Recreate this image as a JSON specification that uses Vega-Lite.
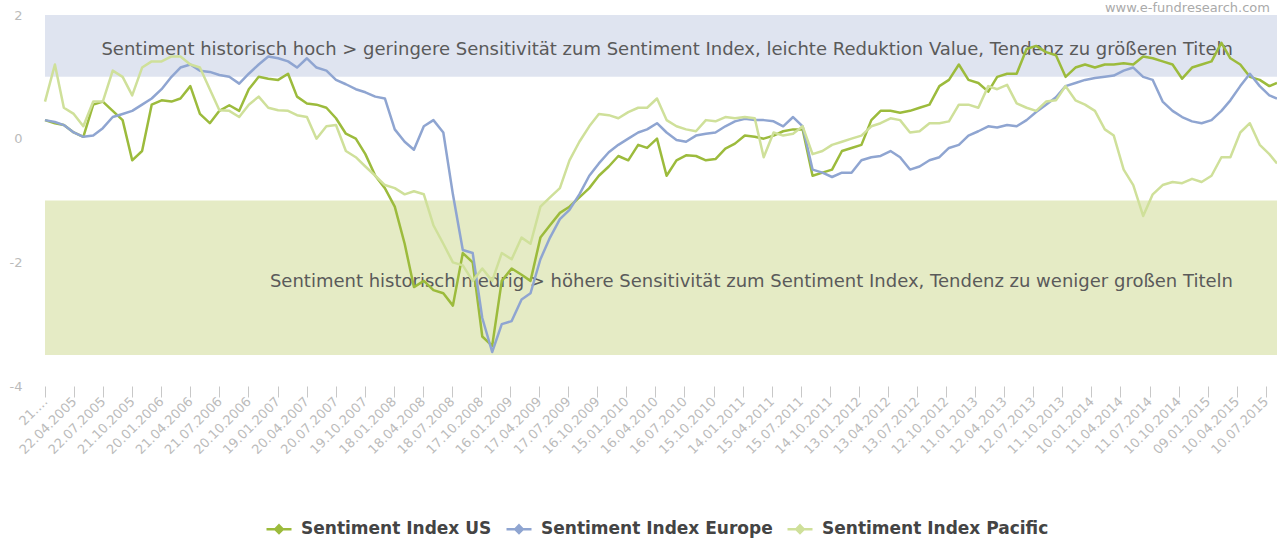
{
  "$schema": "https://vega.github.io/schema/vega-lite/v6.json",
  "width": 1232,
  "height": 371,
  "autosize": {"type": "none"},
  "padding": {"left": 45, "top": 15, "right": 0, "bottom": 154},
  "background": "white",
  "config": {
    "view": {"stroke": null},
    "font": "DejaVu Sans",
    "axisX": {"domain": false, "grid": false, "ticks": true, "tickSize": 11, "tickColor": "#c8c8c8", "tickWidth": 1, "labelAngle": -45, "labelAlign": "right", "labelBaseline": "middle", "labelPadding": 2, "labelFontSize": 13, "labelColor": "#bbbbbb", "labelOverlap": false, "labelFlush": false, "labelBound": false},
    "axisY": {"domain": false, "ticks": false, "grid": false, "labelFontSize": 13, "labelColor": "#bbbbbb", "labelPadding": 23, "labelFlush": false, "labelOverlap": false}
  },
  "datasets": {
    "series": [
      {"date": "2005-01-21", "US": 0.30, "Europe": 0.30, "Pacific": 0.60},
      {"date": "2005-02-21", "US": 0.25, "Europe": 0.27, "Pacific": 1.20},
      {"date": "2005-03-21", "US": 0.22, "Europe": 0.22, "Pacific": 0.50},
      {"date": "2005-04-21", "US": 0.10, "Europe": 0.10, "Pacific": 0.40},
      {"date": "2005-05-21", "US": 0.03, "Europe": 0.03, "Pacific": 0.20},
      {"date": "2005-06-21", "US": 0.55, "Europe": 0.05, "Pacific": 0.60},
      {"date": "2005-07-21", "US": 0.60, "Europe": 0.17, "Pacific": 0.60},
      {"date": "2005-08-21", "US": 0.45, "Europe": 0.35, "Pacific": 1.10},
      {"date": "2005-09-21", "US": 0.30, "Europe": 0.40, "Pacific": 1.00},
      {"date": "2005-10-21", "US": -0.35, "Europe": 0.45, "Pacific": 0.70},
      {"date": "2005-11-21", "US": -0.20, "Europe": 0.55, "Pacific": 1.15},
      {"date": "2005-12-21", "US": 0.55, "Europe": 0.65, "Pacific": 1.25},
      {"date": "2006-01-21", "US": 0.62, "Europe": 0.80, "Pacific": 1.25},
      {"date": "2006-02-21", "US": 0.60, "Europe": 1.00, "Pacific": 1.33},
      {"date": "2006-03-21", "US": 0.65, "Europe": 1.15, "Pacific": 1.33},
      {"date": "2006-04-21", "US": 0.85, "Europe": 1.20, "Pacific": 1.20},
      {"date": "2006-05-21", "US": 0.40, "Europe": 1.10, "Pacific": 1.15},
      {"date": "2006-06-21", "US": 0.25, "Europe": 1.08, "Pacific": 0.80},
      {"date": "2006-07-21", "US": 0.45, "Europe": 1.03, "Pacific": 0.46},
      {"date": "2006-08-21", "US": 0.54, "Europe": 1.00, "Pacific": 0.45},
      {"date": "2006-09-21", "US": 0.45, "Europe": 0.89, "Pacific": 0.35},
      {"date": "2006-10-21", "US": 0.80, "Europe": 1.05, "Pacific": 0.55},
      {"date": "2006-11-21", "US": 1.00, "Europe": 1.20, "Pacific": 0.68},
      {"date": "2006-12-21", "US": 0.97, "Europe": 1.33, "Pacific": 0.50},
      {"date": "2007-01-21", "US": 0.95, "Europe": 1.30, "Pacific": 0.46},
      {"date": "2007-02-21", "US": 1.05, "Europe": 1.25, "Pacific": 0.45},
      {"date": "2007-03-21", "US": 0.68, "Europe": 1.15, "Pacific": 0.38},
      {"date": "2007-04-21", "US": 0.57, "Europe": 1.30, "Pacific": 0.35},
      {"date": "2007-05-21", "US": 0.55, "Europe": 1.15, "Pacific": 0.00},
      {"date": "2007-06-21", "US": 0.50, "Europe": 1.10, "Pacific": 0.20},
      {"date": "2007-07-21", "US": 0.33, "Europe": 0.95, "Pacific": 0.22},
      {"date": "2007-08-21", "US": 0.08, "Europe": 0.88, "Pacific": -0.20},
      {"date": "2007-09-21", "US": 0.00, "Europe": 0.80, "Pacific": -0.30},
      {"date": "2007-10-21", "US": -0.25, "Europe": 0.75, "Pacific": -0.45},
      {"date": "2007-11-21", "US": -0.60, "Europe": 0.68, "Pacific": -0.60},
      {"date": "2007-12-21", "US": -0.80, "Europe": 0.65, "Pacific": -0.75},
      {"date": "2008-01-21", "US": -1.10, "Europe": 0.15, "Pacific": -0.80},
      {"date": "2008-02-21", "US": -1.70, "Europe": -0.05, "Pacific": -0.90},
      {"date": "2008-03-21", "US": -2.40, "Europe": -0.18, "Pacific": -0.85},
      {"date": "2008-04-21", "US": -2.30, "Europe": 0.20, "Pacific": -0.90},
      {"date": "2008-05-21", "US": -2.45, "Europe": 0.30, "Pacific": -1.40},
      {"date": "2008-06-21", "US": -2.50, "Europe": 0.10, "Pacific": -1.70},
      {"date": "2008-07-21", "US": -2.70, "Europe": -0.90, "Pacific": -2.00},
      {"date": "2008-08-21", "US": -1.85, "Europe": -1.80, "Pacific": -2.05},
      {"date": "2008-09-21", "US": -2.00, "Europe": -1.85, "Pacific": -2.30},
      {"date": "2008-10-21", "US": -3.20, "Europe": -2.90, "Pacific": -2.10},
      {"date": "2008-11-21", "US": -3.35, "Europe": -3.45, "Pacific": -2.30},
      {"date": "2008-12-21", "US": -2.30, "Europe": -3.00, "Pacific": -1.85},
      {"date": "2009-01-21", "US": -2.10, "Europe": -2.95, "Pacific": -1.95},
      {"date": "2009-02-21", "US": -2.20, "Europe": -2.60, "Pacific": -1.60},
      {"date": "2009-03-21", "US": -2.30, "Europe": -2.50, "Pacific": -1.70},
      {"date": "2009-04-21", "US": -1.60, "Europe": -1.95, "Pacific": -1.10},
      {"date": "2009-05-21", "US": -1.40, "Europe": -1.60, "Pacific": -0.95},
      {"date": "2009-06-21", "US": -1.20, "Europe": -1.30, "Pacific": -0.80},
      {"date": "2009-07-21", "US": -1.10, "Europe": -1.15, "Pacific": -0.35},
      {"date": "2009-08-21", "US": -0.95, "Europe": -0.90, "Pacific": -0.05},
      {"date": "2009-09-21", "US": -0.80, "Europe": -0.60, "Pacific": 0.20},
      {"date": "2009-10-21", "US": -0.60, "Europe": -0.40, "Pacific": 0.40},
      {"date": "2009-11-21", "US": -0.45, "Europe": -0.22, "Pacific": 0.38},
      {"date": "2009-12-21", "US": -0.28, "Europe": -0.10, "Pacific": 0.33},
      {"date": "2010-01-21", "US": -0.35, "Europe": 0.00, "Pacific": 0.43},
      {"date": "2010-02-21", "US": -0.10, "Europe": 0.10, "Pacific": 0.50},
      {"date": "2010-03-21", "US": -0.15, "Europe": 0.15, "Pacific": 0.50},
      {"date": "2010-04-21", "US": 0.00, "Europe": 0.25, "Pacific": 0.65},
      {"date": "2010-05-21", "US": -0.60, "Europe": 0.10, "Pacific": 0.30},
      {"date": "2010-06-21", "US": -0.35, "Europe": -0.02, "Pacific": 0.20},
      {"date": "2010-07-21", "US": -0.27, "Europe": -0.05, "Pacific": 0.15},
      {"date": "2010-08-21", "US": -0.28, "Europe": 0.05, "Pacific": 0.12},
      {"date": "2010-09-21", "US": -0.35, "Europe": 0.08, "Pacific": 0.30},
      {"date": "2010-10-21", "US": -0.33, "Europe": 0.10, "Pacific": 0.28},
      {"date": "2010-11-21", "US": -0.16, "Europe": 0.20, "Pacific": 0.35},
      {"date": "2010-12-21", "US": -0.08, "Europe": 0.28, "Pacific": 0.33},
      {"date": "2011-01-21", "US": 0.05, "Europe": 0.32, "Pacific": 0.35},
      {"date": "2011-02-21", "US": 0.03, "Europe": 0.30, "Pacific": 0.33},
      {"date": "2011-03-21", "US": 0.00, "Europe": 0.30, "Pacific": -0.30},
      {"date": "2011-04-21", "US": 0.05, "Europe": 0.28, "Pacific": 0.10},
      {"date": "2011-05-21", "US": 0.12, "Europe": 0.20, "Pacific": 0.05},
      {"date": "2011-06-21", "US": 0.15, "Europe": 0.35, "Pacific": 0.08},
      {"date": "2011-07-21", "US": 0.15, "Europe": 0.20, "Pacific": 0.20},
      {"date": "2011-08-21", "US": -0.60, "Europe": -0.50, "Pacific": -0.25},
      {"date": "2011-09-21", "US": -0.55, "Europe": -0.55, "Pacific": -0.20},
      {"date": "2011-10-21", "US": -0.50, "Europe": -0.62, "Pacific": -0.10},
      {"date": "2011-11-21", "US": -0.20, "Europe": -0.55, "Pacific": -0.05},
      {"date": "2011-12-21", "US": -0.15, "Europe": -0.55, "Pacific": 0.00},
      {"date": "2012-01-21", "US": -0.10, "Europe": -0.35, "Pacific": 0.05},
      {"date": "2012-02-21", "US": 0.30, "Europe": -0.30, "Pacific": 0.20},
      {"date": "2012-03-21", "US": 0.45, "Europe": -0.28, "Pacific": 0.25},
      {"date": "2012-04-21", "US": 0.45, "Europe": -0.20, "Pacific": 0.33},
      {"date": "2012-05-21", "US": 0.42, "Europe": -0.30, "Pacific": 0.30},
      {"date": "2012-06-21", "US": 0.45, "Europe": -0.50, "Pacific": 0.10},
      {"date": "2012-07-21", "US": 0.50, "Europe": -0.45, "Pacific": 0.12},
      {"date": "2012-08-21", "US": 0.55, "Europe": -0.35, "Pacific": 0.25},
      {"date": "2012-09-21", "US": 0.85, "Europe": -0.30, "Pacific": 0.25},
      {"date": "2012-10-21", "US": 0.95, "Europe": -0.15, "Pacific": 0.28},
      {"date": "2012-11-21", "US": 1.20, "Europe": -0.10, "Pacific": 0.55},
      {"date": "2012-12-21", "US": 0.95, "Europe": 0.05, "Pacific": 0.55},
      {"date": "2013-01-21", "US": 0.90, "Europe": 0.12, "Pacific": 0.50},
      {"date": "2013-02-21", "US": 0.76, "Europe": 0.20, "Pacific": 0.85},
      {"date": "2013-03-21", "US": 1.00, "Europe": 0.18, "Pacific": 0.80},
      {"date": "2013-04-21", "US": 1.05, "Europe": 0.22, "Pacific": 0.87},
      {"date": "2013-05-21", "US": 1.05, "Europe": 0.20, "Pacific": 0.57},
      {"date": "2013-06-21", "US": 1.45, "Europe": 0.30, "Pacific": 0.50},
      {"date": "2013-07-21", "US": 1.50, "Europe": 0.43, "Pacific": 0.45},
      {"date": "2013-08-21", "US": 1.40, "Europe": 0.55, "Pacific": 0.60},
      {"date": "2013-09-21", "US": 1.35, "Europe": 0.67, "Pacific": 0.62},
      {"date": "2013-10-21", "US": 1.00, "Europe": 0.85, "Pacific": 0.85},
      {"date": "2013-11-21", "US": 1.15, "Europe": 0.90, "Pacific": 0.62},
      {"date": "2013-12-21", "US": 1.20, "Europe": 0.95, "Pacific": 0.55},
      {"date": "2014-01-21", "US": 1.15, "Europe": 0.98, "Pacific": 0.45},
      {"date": "2014-02-21", "US": 1.20, "Europe": 1.00, "Pacific": 0.15},
      {"date": "2014-03-21", "US": 1.20, "Europe": 1.02, "Pacific": 0.05},
      {"date": "2014-04-21", "US": 1.22, "Europe": 1.10, "Pacific": -0.50},
      {"date": "2014-05-21", "US": 1.20, "Europe": 1.15, "Pacific": -0.75},
      {"date": "2014-06-21", "US": 1.33, "Europe": 1.00, "Pacific": -1.25},
      {"date": "2014-07-21", "US": 1.30, "Europe": 0.95, "Pacific": -0.90},
      {"date": "2014-08-21", "US": 1.25, "Europe": 0.60, "Pacific": -0.75},
      {"date": "2014-09-21", "US": 1.20, "Europe": 0.45, "Pacific": -0.70},
      {"date": "2014-10-21", "US": 0.97, "Europe": 0.35, "Pacific": -0.72},
      {"date": "2014-11-21", "US": 1.15, "Europe": 0.28, "Pacific": -0.65},
      {"date": "2014-12-21", "US": 1.20, "Europe": 0.25, "Pacific": -0.70},
      {"date": "2015-01-21", "US": 1.25, "Europe": 0.30, "Pacific": -0.60},
      {"date": "2015-02-21", "US": 1.55, "Europe": 0.45, "Pacific": -0.30},
      {"date": "2015-03-21", "US": 1.30, "Europe": 0.62, "Pacific": -0.30},
      {"date": "2015-04-21", "US": 1.20, "Europe": 0.85, "Pacific": 0.10},
      {"date": "2015-05-21", "US": 1.00, "Europe": 1.05, "Pacific": 0.25},
      {"date": "2015-06-21", "US": 0.95, "Europe": 0.85, "Pacific": -0.10},
      {"date": "2015-07-21", "US": 0.85, "Europe": 0.70, "Pacific": -0.25},
      {"date": "2015-08-14", "US": 0.90, "Europe": 0.65, "Pacific": -0.40}
    ],
    "notes": [
      {"date": "2015-03-29", "value": 1.435, "label": "Sentiment historisch hoch > geringere Sensitivität zum Sentiment Index, leichte Reduktion Value, Tendenz zu größeren Titeln"},
      {"date": "2015-03-29", "value": -2.31, "label": "Sentiment historisch niedrig > höhere Sensitivität zum Sentiment Index, Tendenz zu weniger großen Titeln"}
    ],
    "source": [
      {"date": "2015-07-23", "value": 2.11, "label": "www.e-fundresearch.com"}
    ]
  },
  "layer": [
    {
      "data": {"values": [{"value": 2, "value2": 1}]},
      "mark": {"type": "rect", "color": "#dfe4f0"},
      "encoding": {
        "y": {"field": "value", "type": "quantitative", "title": null, "scale": {"domain": [-4, 2], "nice": false}, "axis": {"title": null, "values": [2, 0, -2, -4], "labelExpr": "toString(datum.value)"}},
        "y2": {"field": "value2"}
      }
    },
    {
      "data": {"values": [{"value": -1, "value2": -3.5}]},
      "mark": {"type": "rect", "color": "#e5ebc5"},
      "encoding": {
        "y": {"field": "value", "type": "quantitative", "title": null, "scale": {"domain": [-4, 2], "nice": false}, "axis": {"title": null, "values": [2, 0, -2, -4], "labelExpr": "toString(datum.value)"}},
        "y2": {"field": "value2"}
      }
    },
    {
      "data": {"name": "notes"},
      "mark": {"type": "text", "align": "right", "baseline": "middle", "fontSize": 18, "color": "#5a5a5a"},
      "encoding": {
        "x": {"field": "date", "type": "temporal", "title": null, "axis": {"title": null, "labelOverlap": false}},
        "y": {"field": "value", "type": "quantitative", "title": null, "axis": {"title": null, "values": [2, 0, -2, -4], "labelExpr": "toString(datum.value)"}},
        "text": {"field": "label"}
      }
    },
    {
      "data": {"name": "source"},
      "mark": {"type": "text", "align": "right", "baseline": "middle", "fontSize": 13, "color": "#aaaaaa"},
      "encoding": {
        "x": {"field": "date", "type": "temporal", "title": null, "axis": {"title": null, "labelOverlap": false}},
        "y": {"field": "value", "type": "quantitative", "title": null, "axis": {"title": null, "values": [2, 0, -2, -4], "labelExpr": "toString(datum.value)"}},
        "text": {"field": "label"}
      }
    },
    {
      "data": {"name": "series"},
      "transform": [{"fold": ["US", "Europe", "Pacific"], "as": ["series", "value"]}],
      "mark": {"type": "line", "strokeWidth": 2.5, "strokeJoin": "round"},
      "encoding": {
        "x": {
          "field": "date", "type": "temporal", "title": null,
          "scale": {"domain": [{"year": 2005, "month": 1, "date": 21}, {"year": 2015, "month": 8, "date": 14}]},
          "axis": {
            "title": null, "labelOverlap": false, "tickCount": 50,
            "labelExpr": "datum.value < datetime(2005, 1, 1) ? '21.…' : timeFormat(datum.value, '%d.%m.%Y')",
            "values": [
              {"year": 2005, "month": 1, "date": 21}, {"year": 2005, "month": 4, "date": 22}, {"year": 2005, "month": 7, "date": 22}, {"year": 2005, "month": 10, "date": 21},
              {"year": 2006, "month": 1, "date": 20}, {"year": 2006, "month": 4, "date": 21}, {"year": 2006, "month": 7, "date": 21}, {"year": 2006, "month": 10, "date": 20},
              {"year": 2007, "month": 1, "date": 19}, {"year": 2007, "month": 4, "date": 20}, {"year": 2007, "month": 7, "date": 20}, {"year": 2007, "month": 10, "date": 19},
              {"year": 2008, "month": 1, "date": 18}, {"year": 2008, "month": 4, "date": 18}, {"year": 2008, "month": 7, "date": 18}, {"year": 2008, "month": 10, "date": 17},
              {"year": 2009, "month": 1, "date": 16}, {"year": 2009, "month": 4, "date": 17}, {"year": 2009, "month": 7, "date": 17}, {"year": 2009, "month": 10, "date": 16},
              {"year": 2010, "month": 1, "date": 15}, {"year": 2010, "month": 4, "date": 16}, {"year": 2010, "month": 7, "date": 16}, {"year": 2010, "month": 10, "date": 15},
              {"year": 2011, "month": 1, "date": 14}, {"year": 2011, "month": 4, "date": 15}, {"year": 2011, "month": 7, "date": 15}, {"year": 2011, "month": 10, "date": 14},
              {"year": 2012, "month": 1, "date": 13}, {"year": 2012, "month": 4, "date": 13}, {"year": 2012, "month": 7, "date": 13}, {"year": 2012, "month": 10, "date": 12},
              {"year": 2013, "month": 1, "date": 11}, {"year": 2013, "month": 4, "date": 12}, {"year": 2013, "month": 7, "date": 12}, {"year": 2013, "month": 10, "date": 11},
              {"year": 2014, "month": 1, "date": 10}, {"year": 2014, "month": 4, "date": 11}, {"year": 2014, "month": 7, "date": 11}, {"year": 2014, "month": 10, "date": 10},
              {"year": 2015, "month": 1, "date": 9}, {"year": 2015, "month": 4, "date": 10}, {"year": 2015, "month": 7, "date": 10}
            ]
          }
        },
        "y": {"field": "value", "type": "quantitative", "title": null, "scale": {"domain": [-4, 2], "nice": false}, "axis": {"title": null, "values": [2, 0, -2, -4], "labelExpr": "toString(datum.value)"}},
        "color": {
          "field": "series", "type": "nominal",
          "scale": {"domain": ["US", "Europe", "Pacific"], "range": ["#9cbb3c", "#8fa5d1", "#cfe09a"]},
          "legend": {
            "orient": "none", "legendX": 220, "legendY": 500, "direction": "horizontal", "title": null, "padding": 0,
            "labelExpr": "'Sentiment Index ' + datum.label", "labelLimit": 0,
            "labelFont": "DejaVu Sans", "labelFontWeight": "bold", "labelFontSize": 17, "labelColor": "#444444",
            "symbolType": "M-1,0L1,0M0,-0.3L0.3,0L0,0.3L-0.3,0Z", "symbolSize": 625, "symbolStrokeWidth": 2.5,
            "labelOffset": 8, "columnPadding": 9,
            "encode": {"symbols": {"update": {"fill": {"scale": "color", "field": "value"}, "fillOpacity": {"value": 1}}}}
          }
        }
      }
    }
  ]
}
